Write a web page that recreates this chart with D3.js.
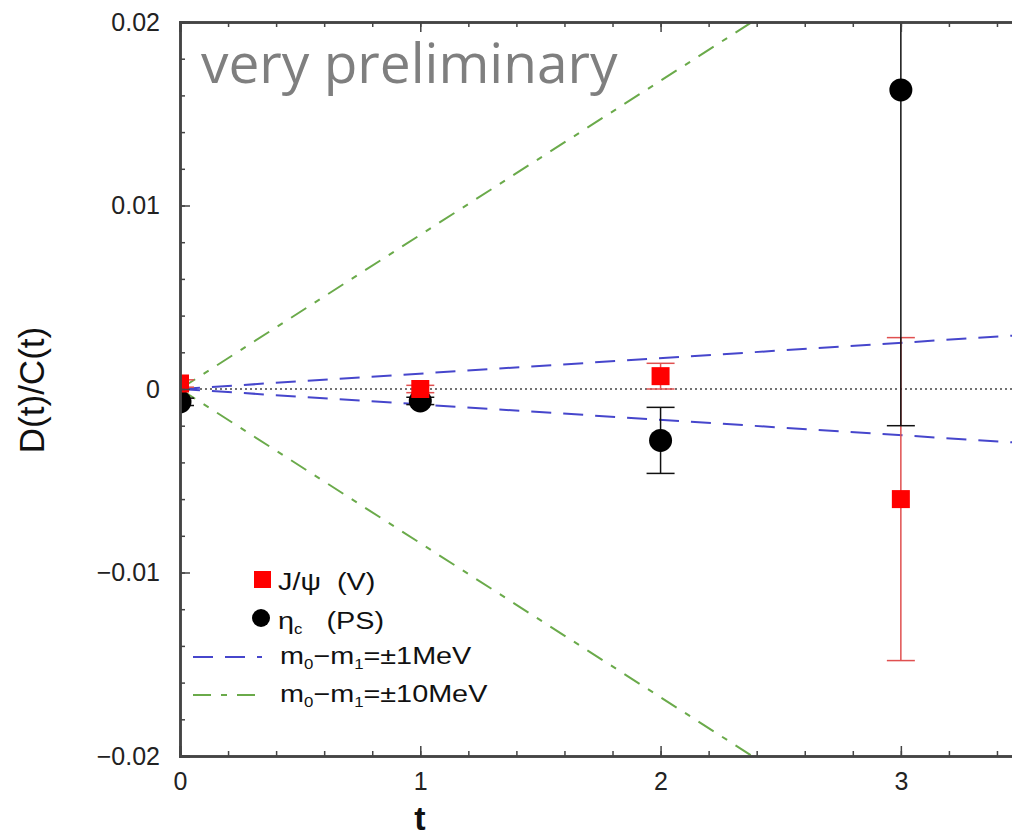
<!DOCTYPE html>
<html>
<head>
<meta charset="utf-8">
<script src="https://cdn.jsdelivr.net/npm/d3@7/dist/d3.min.js"></script>
<style>
  body { margin: 0; background: #fff; }
  svg text { font-family: "Liberation Sans", Arial, sans-serif; }
</style>
</head>
<body>
<div id="chart"></div>
<script>
// data
const tValues = [0, 1, 2, 3];
const jpsiY = [0.0003, 0.0000, 0.0007, -0.0060];
const jpsiErr = [0.0002, 0.0002, 0.0007, 0.0088];
const etaY = [-0.0007, -0.00065, -0.0028, 0.0163];
const etaErr = [0.0002, 0.0002, 0.0018, 0.0183];
const slope1MeV = 0.00084;
const slope10MeV = 0.0084;
const xTicks = [0, 1, 2, 3];
const yTicks = [-0.02, -0.01, 0, 0.01, 0.02];
const yTickLabels = ["\u22120.02", "\u22120.01", "0", "0.01", "0.02"];

(function () {
  const W = 1012, H = 838;
  const left = 180, right = 1021, top = 22, bottom = 756;
  const blue = "#4646cc", green = "#6aaa4a";
  const blueDash = "20,12", greenDash = "18,10,6,10";

  const svg = d3.select("#chart").append("svg")
    .attr("width", W).attr("height", H);

  const x = d3.scaleLinear().domain([0, 3.5]).range([left, right]);
  const y = d3.scaleLinear().domain([-0.02, 0.02]).range([bottom, top]);

  svg.append("clipPath").attr("id", "plotclip")
    .append("rect")
    .attr("x", left).attr("y", top)
    .attr("width", right - left).attr("height", bottom - top);

  const plot = svg.append("g").attr("clip-path", "url(#plotclip)");

  // zero line
  plot.append("line")
    .attr("x1", x(0)).attr("x2", x(3.5))
    .attr("y1", y(0)).attr("y2", y(0))
    .attr("stroke", "#444").attr("stroke-width", 1.5)
    .attr("stroke-dasharray", "2,3");

  // slope lines
  const lineDefs = [
    {s: slope1MeV, color: blue, dash: blueDash},
    {s: -slope1MeV, color: blue, dash: blueDash},
    {s: slope10MeV, color: green, dash: greenDash},
    {s: -slope10MeV, color: green, dash: greenDash}
  ];
  lineDefs.forEach(function (d) {
    plot.append("line")
      .attr("x1", x(0)).attr("y1", y(0))
      .attr("x2", x(3.5)).attr("y2", y(d.s * 3.5))
      .attr("stroke", d.color).attr("stroke-width", 2)
      .attr("stroke-dasharray", d.dash);
  });

  const cap = 14;
  function errorBars(ys, errs, color, width) {
    tValues.forEach(function (t, i) {
      const g = plot.append("g").attr("stroke", color).attr("stroke-width", width);
      const hi = ys[i] + errs[i], lo = ys[i] - errs[i];
      g.append("line").attr("x1", x(t)).attr("x2", x(t)).attr("y1", y(hi)).attr("y2", y(lo));
      g.append("line").attr("x1", x(t) - cap).attr("x2", x(t) + cap).attr("y1", y(hi)).attr("y2", y(hi));
      g.append("line").attr("x1", x(t) - cap).attr("x2", x(t) + cap).attr("y1", y(lo)).attr("y2", y(lo));
    });
  }
  errorBars(jpsiY, jpsiErr, "#e05050", 1.5);
  errorBars(etaY, etaErr, "#111", 1.5);

  // points
  plot.selectAll("circle.eta").data(tValues).enter().append("circle")
    .attr("class", "eta")
    .attr("cx", function (t) { return x(t); })
    .attr("cy", function (t, i) { return y(etaY[i]); })
    .attr("r", 11.5).attr("fill", "#000");

  plot.selectAll("rect.jpsi").data(tValues).enter().append("rect")
    .attr("class", "jpsi")
    .attr("x", function (t) { return x(t) - 9; })
    .attr("y", function (t, i) { return y(jpsiY[i]) - 9; })
    .attr("width", 18).attr("height", 18).attr("fill", "#f00");

  // axes: inward ticks, major + minor
  const axisColor = "#444";
  function drawAxis(axis, transform) {
    const g = svg.append("g").attr("transform", transform).call(axis);
    g.select(".domain").attr("stroke", axisColor).attr("stroke-width", 2.5);
    g.selectAll(".tick line").attr("stroke", axisColor).attr("stroke-width", 1.5);
    return g;
  }
  const xMinor = d3.range(0, 3.51, 0.2);
  const yMinor = d3.range(-0.02, 0.0201, 0.002);

  drawAxis(d3.axisBottom(x).tickValues(xMinor).tickSize(-5).tickFormat(""), "translate(0," + bottom + ")");
  drawAxis(d3.axisTop(x).tickValues(xMinor).tickSize(-5).tickFormat(""), "translate(0," + top + ")");
  drawAxis(d3.axisLeft(y).tickValues(yMinor).tickSize(-5).tickFormat(""), "translate(" + left + ",0)");

  const xa = drawAxis(d3.axisBottom(x).tickValues(xTicks).tickSize(-10).tickPadding(16).tickFormat(d3.format("d")),
    "translate(0," + bottom + ")");
  xa.selectAll("text").attr("font-size", 25).attr("fill", "#222");
  drawAxis(d3.axisTop(x).tickValues(xTicks).tickSize(-10).tickFormat(""), "translate(0," + top + ")");

  const ya = drawAxis(d3.axisLeft(y).tickValues(yTicks).tickSize(-10).tickPadding(20)
      .tickFormat(function (d, i) { return yTickLabels[i]; }),
    "translate(" + left + ",0)");
  ya.selectAll("text").attr("font-size", 25).attr("fill", "#222");

  // axis titles
  svg.append("text")
    .attr("x", 420).attr("y", 830)
    .attr("text-anchor", "middle")
    .attr("font-size", 34).attr("font-weight", "bold").attr("fill", "#111")
    .text("t");

  svg.append("text")
    .attr("transform", "translate(44,390) rotate(-90)")
    .attr("text-anchor", "middle")
    .attr("font-size", 35).attr("fill", "#111")
    .text("D(t)/C(t)");

  // watermark
  svg.append("text")
    .attr("x", 201).attr("y", 83)
    .attr("font-size", 55).attr("fill", "#7f7f7f")
    .style("font-family", "'Open Sans', 'DejaVu Sans', sans-serif")
    .text("very preliminary");

  // legend (its lettering is drawn wide, so the text is stretched sideways)
  const leg = svg.append("g");
  const stretch = 1.2;
  function legText(px, py) {
    return leg.append("text")
      .attr("transform", "translate(" + px + "," + py + ") scale(" + stretch + ",1)")
      .attr("font-size", 24).attr("fill", "#111")
      .attr("xml:space", "preserve");
  }

  leg.append("rect").attr("x", 254).attr("y", 571).attr("width", 17).attr("height", 17).attr("fill", "#f00");
  legText(278, 590).text("J/\u03c8  (V)");

  leg.append("circle").attr("cx", 261).attr("cy", 618).attr("r", 9).attr("fill", "#000");
  const etaText = legText(278, 629);
  etaText.append("tspan").text("\u03b7");
  etaText.append("tspan").attr("font-size", 14).attr("dy", 5).text("c");
  etaText.append("tspan").attr("dy", -5).text("   (PS)");

  const legLines = [
    {y: 657, color: blue, dash: blueDash, label: "\u00b11MeV"},
    {y: 695, color: green, dash: greenDash, label: "\u00b110MeV"}
  ];
  legLines.forEach(function (d) {
    leg.append("line").attr("x1", 193).attr("x2", 262).attr("y1", d.y).attr("y2", d.y)
      .attr("stroke", d.color).attr("stroke-width", 2).attr("stroke-dasharray", d.dash);
    const tx = legText(280, d.y + 7);
    tx.append("tspan").text("m");
    tx.append("tspan").attr("font-size", 14).attr("dy", 5).text("0");
    tx.append("tspan").attr("dy", -5).text("\u2212m");
    tx.append("tspan").attr("font-size", 14).attr("dy", 5).text("1");
    tx.append("tspan").attr("dy", -5).text("=" + d.label);
  });
})();
</script>
</body>
</html>
